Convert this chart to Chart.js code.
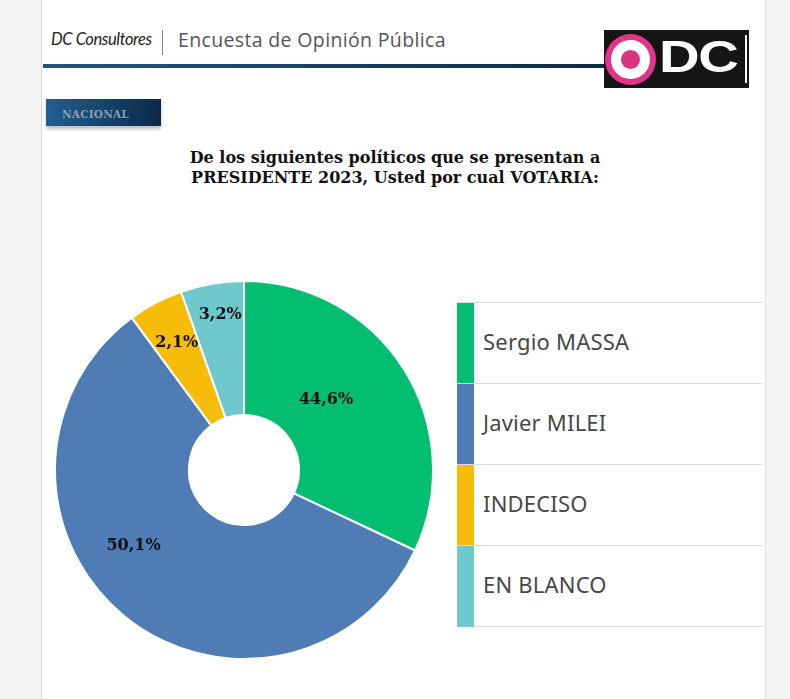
<!DOCTYPE html>
<html>
<head>
<meta charset="utf-8">
<script src="https://cdn.jsdelivr.net/npm/chart.js@4.4.0/dist/chart.umd.min.js"></script>
<style>
  html, body { margin: 0; padding: 0; }
  body { width: 790px; height: 699px; background: #f4f4f4; position: relative; overflow: hidden; font-family: "Open Sans", sans-serif; }
  #card { position: absolute; left: 41px; top: 0; width: 723px; height: 699px; background: #fff; border-left: 1px solid #d8d8d8; border-right: 1px solid #dedede; }
  .abs { position: absolute; }
  #brand { left: 51px; top: 29px; font-family: Lato, sans-serif; font-style: italic; font-size: 16.5px; color: #222; letter-spacing: -0.4px; }
  #sep { left: 162px; top: 30px; width: 1px; height: 25px; background: #888; }
  #survey { left: 178px; top: 26px; font-family: "Open Sans", sans-serif; font-size: 19.5px; color: #555; letter-spacing: 0.35px; }
  #rule { left: 43px; top: 64px; width: 563px; height: 4px; background: linear-gradient(to right, #23567a, #0d2b47); }
  #logo { left: 604px; top: 30px; width: 145px; height: 58px; background: #151515; }
  #ring { left: 605px; top: 34px; width: 51px; height: 51px; border-radius: 50%; background: #e0358a; }
  #ringw { left: 611px; top: 40px; width: 39px; height: 39px; border-radius: 50%; background: #fff; }
  #ringp { left: 621px; top: 50px; width: 19px; height: 19px; border-radius: 50%; background: #d8347f; }
  #dc { left: 659px; top: 31px; font-family: "Liberation Sans", Arial, sans-serif; font-weight: bold; font-size: 45px; color: #fff; letter-spacing: -1px; transform: scaleX(1.25); transform-origin: left top; }
  #bar { left: 745px; top: 35px; width: 2px; height: 48px; background: #fff; }
  #badge { left: 46px; top: 99px; width: 115px; height: 27px; background: linear-gradient(to right, #215f92, #0c2848); box-shadow: 0 3px 3px rgba(0,0,0,0.25); }
  #badge span { position: absolute; left: 16px; top: 9px; font-family: "DejaVu Serif", serif; font-weight: bold; font-size: 10.5px; color: #8d9cae; letter-spacing: 0.2px; }
  #title { left: 95px; top: 148px; width: 600px; text-align: center; font-family: "DejaVu Serif", serif; font-weight: bold; font-size: 16px; line-height: 20px; color: #111; }
  #wrap { left: 44px; top: 270px; width: 400px; height: 400px; }
  #legend { left: 457px; top: 302px; width: 306px; }
  .row { position: relative; height: 80px; border-top: 1px solid #dcdcdc; }
  .row:last-child { border-bottom: 1px solid #dcdcdc; }
  .sw { position: absolute; left: 0; top: 0; width: 17px; height: 81px; }
  .lt { position: absolute; left: 26px; top: 23px; font-family: "Noto Sans", sans-serif; font-size: 22px; color: #474747; letter-spacing: 0.2px; }
</style>
</head>
<body>
<div id="card"></div>
<div class="abs" id="brand">DC Consultores</div>
<div class="abs" id="sep"></div>
<div class="abs" id="survey">Encuesta de Opinión Pública</div>
<div class="abs" id="rule"></div>
<div class="abs" id="logo"></div>
<div class="abs" id="ring"></div>
<div class="abs" id="ringw"></div>
<div class="abs" id="ringp"></div>
<div class="abs" id="dc">DC</div>
<div class="abs" id="bar"></div>
<div class="abs" id="badge"><span>NACIONAL</span></div>
<div class="abs" id="title">De los siguientes políticos que se presentan a<br>PRESIDENTE 2023, Usted por cual VOTARIA:</div>
<div class="abs" id="wrap"><canvas id="pie"></canvas></div>
<div class="abs" id="legend"></div>

<script>
// categories and values
var candidates = ['Sergio MASSA', 'Javier MILEI', 'INDECISO', 'EN BLANCO'];
// share of the circle each slice takes in the picture
var sliceShares = [32.0, 57.9, 4.7, 5.4];
// the percentages printed on the slices
var printedLabels = ['44,6%', '50,1%', '2,1%', '3,2%'];
var sliceColors = ['#03bd70', '#4f7cb4', '#f6bc0a', '#6ec8cc'];

// where each printed label sits: radius fraction and angle nudge (degrees)
var labelRadius = [0.57, 0.71, 0.76, 0.83];
var labelNudge = [-8, 16, 0, 1];

var sliceLabels = {
  id: 'sliceLabels',
  afterDatasetsDraw: function(chart) {
    var ctx = chart.ctx;
    var arcs = chart.getDatasetMeta(0).data;
    ctx.save();
    ctx.font = 'bold 16px "DejaVu Serif", serif';
    ctx.fillStyle = '#111';
    ctx.textAlign = 'center';
    ctx.textBaseline = 'middle';
    for (var i = 0; i < arcs.length; i++) {
      var a = arcs[i];
      var mid = (a.startAngle + a.endAngle) / 2 + labelNudge[i] * Math.PI / 180;
      var r = a.outerRadius * labelRadius[i];
      ctx.fillText(printedLabels[i], a.x + Math.cos(mid) * r, a.y + Math.sin(mid) * r);
    }
    ctx.restore();
  }
};

var chart = new Chart(document.getElementById('pie'), {
  type: 'doughnut',
  data: {
    labels: candidates,
    datasets: [{
      data: sliceShares,
      backgroundColor: sliceColors,
      borderColor: '#ffffff',
      borderWidth: 2
    }]
  },
  options: {
    responsive: true,
    maintainAspectRatio: false,
    animation: false,
    radius: 189,
    cutout: 58,
    layout: { padding: 0 },
    plugins: {
      legend: { display: false },
      tooltip: { enabled: false }
    }
  },
  plugins: [sliceLabels]
});

// legend table on the right
var legend = document.getElementById('legend');
for (var i = 0; i < candidates.length; i++) {
  var row = document.createElement('div');
  row.className = 'row';
  row.innerHTML = '<div class="sw" style="background:' + sliceColors[i] + '"></div><div class="lt">' + candidates[i] + '</div>';
  legend.appendChild(row);
}
</script>
</body>
</html>
